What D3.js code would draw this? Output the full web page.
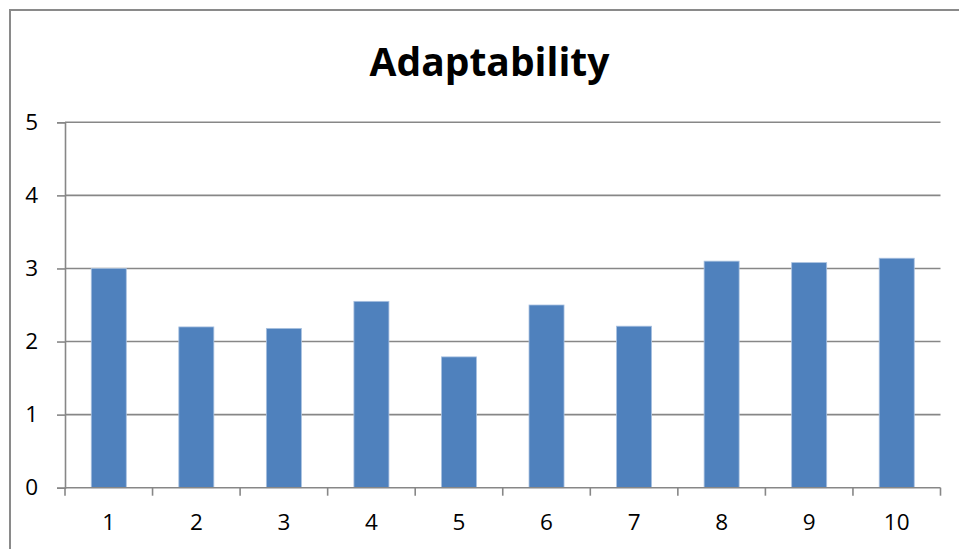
<!DOCTYPE html>
<html>
<head>
<meta charset="utf-8">
<script src="https://cdn.jsdelivr.net/npm/d3@7"></script>
<style>
  html, body { margin: 0; padding: 0; background: #fff; }
  svg { display: block; }
</style>
</head>
<body>
<svg id="chart" width="959" height="549"></svg>
<script>
// Adaptability scores per respondent
const categories = ["1", "2", "3", "4", "5", "6", "7", "8", "9", "10"];
const values = [3.0, 2.2, 2.18, 2.55, 1.79, 2.5, 2.21, 3.1, 3.08, 3.14];
const yTicks = [0, 1, 2, 3, 4, 5];
const title = "Adaptability";

const svg = d3.select("#chart");
const plot = { left: 65, right: 940.5, top: 122.3, bottom: 487.7 };
const font = "'Open Sans', 'Liberation Sans', sans-serif";
const gridColor = "#878787";
const labelSize = 22.5;

// outer chart frame
svg.append("rect")
  .attr("x", 10).attr("y", 10)
  .attr("width", 980).attr("height", 560)
  .attr("fill", "#fff")
  .attr("stroke", "#8a8a8a")
  .attr("stroke-width", 2);

const x = d3.scaleBand()
  .domain(categories)
  .range([plot.left, plot.right])
  .paddingInner(0.6)
  .paddingOuter(0.3);

const xBoundary = d3.scaleBand()
  .domain(categories)
  .range([plot.left, plot.right]);

const y = d3.scaleLinear()
  .domain([0, 5])
  .range([plot.bottom, plot.top]);

// horizontal gridlines
svg.append("g")
  .selectAll("line")
  .data(yTicks.filter(d => d > 0))
  .join("line")
  .attr("x1", plot.left).attr("x2", plot.right)
  .attr("y1", d => y(d)).attr("y2", d => y(d))
  .attr("stroke", gridColor)
  .attr("stroke-width", 1.6);

// bars
svg.append("g")
  .selectAll("rect")
  .data(values)
  .join("rect")
  .attr("x", (d, i) => x(categories[i]))
  .attr("width", x.bandwidth())
  .attr("y", d => y(d))
  .attr("height", d => y(0) - y(d))
  .attr("fill", "#4f81bd")
  .attr("stroke", "#a9c1e0")
  .attr("stroke-width", 0.8);

// y axis
const yAxis = d3.axisLeft(y)
  .tickValues(yTicks)
  .tickSize(8)
  .tickPadding(19)
  .tickFormat(d3.format("d"));

const gy = svg.append("g")
  .attr("transform", `translate(${plot.left},0)`)
  .call(yAxis);
gy.select(".domain").attr("stroke", gridColor).attr("stroke-width", 1.6);
gy.selectAll(".tick line").attr("stroke", gridColor).attr("stroke-width", 1.6);
gy.selectAll(".tick text")
  .attr("font-family", font)
  .attr("font-size", labelSize)
  .attr("fill", "#000");

// x axis with ticks on category boundaries
const boundaries = categories.map(c => xBoundary(c)).concat([plot.right]);
const gx = svg.append("g");
gx.append("line")
  .attr("x1", plot.left).attr("x2", plot.right)
  .attr("y1", plot.bottom).attr("y2", plot.bottom)
  .attr("stroke", gridColor)
  .attr("stroke-width", 1.6);
gx.selectAll("line.tick")
  .data(boundaries)
  .join("line")
  .attr("class", "tick")
  .attr("x1", d => d).attr("x2", d => d)
  .attr("y1", plot.bottom).attr("y2", plot.bottom + 8)
  .attr("stroke", gridColor)
  .attr("stroke-width", 1.6);
gx.selectAll("text")
  .data(categories)
  .join("text")
  .attr("x", d => xBoundary(d) + xBoundary.bandwidth() / 2)
  .attr("y", 530)
  .attr("text-anchor", "middle")
  .attr("font-family", font)
  .attr("font-size", labelSize)
  .attr("fill", "#000")
  .text(d => d);

// title
svg.append("text")
  .attr("x", 489.5)
  .attr("y", 75.5)
  .attr("text-anchor", "middle")
  .attr("font-family", font)
  .attr("font-weight", "bold")
  .attr("font-size", 39)
  .attr("fill", "#000")
  .text(title);
</script>
</body>
</html>
